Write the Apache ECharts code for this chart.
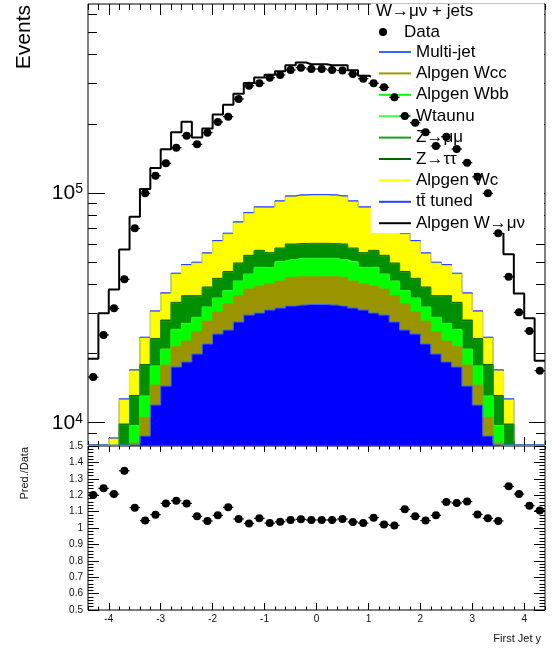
<!DOCTYPE html>
<html>
<head>
<meta charset="utf-8">
<script src="https://cdn.jsdelivr.net/npm/echarts@6/dist/echarts.min.js"></script>
<style>
  html, body { margin: 0; padding: 0; background: #fff; }
  #chart { width: 552px; height: 649px; }
</style>
</head>
<body>
<div id="chart"></div>
<script>
// Bin centres of the first-jet rapidity histogram (bin width 0.2)
const binCenters = [-4.3, -4.1, -3.9, -3.7, -3.5, -3.3, -3.1, -2.9, -2.7, -2.5, -2.3, -2.1, -1.9, -1.7, -1.5, -1.3, -1.1, -0.9, -0.7, -0.5, -0.3, -0.1,
                    0.1, 0.3, 0.5, 0.7, 0.9, 1.1, 1.3, 1.5, 1.7, 1.9, 2.1, 2.3, 2.5, 2.7, 2.9, 3.1, 3.3, 3.5, 3.7, 3.9, 4.1, 4.3];

// Observed events per bin
const dataEvents = [15810, 24100, 31480, 42110, 70200, 99700, 118950, 134700, 157500, 177700, 162900, 183000, 203800, 214900, 256600, 293200, 300300, 317700, 326400, 343200, 351200, 346600,
                    346600, 343200, 341500, 329700, 314500, 300300, 288600, 261000, 216400, 202300, 183800, 160200, 175900, 155400, 135500, 117700, 99700, 66770, 43210, 30240, 25070, 16840];

// Prediction / data ratio per bin
const ratioPredData = [1.201, 1.242, 1.207, 1.349, 1.124, 1.045, 1.081, 1.150, 1.166, 1.150, 1.071, 1.043, 1.077, 1.126, 1.055, 1.028, 1.059, 1.030, 1.038, 1.049, 1.053, 1.049,
                       1.049, 1.049, 1.055, 1.037, 1.030, 1.063, 1.022, 1.016, 1.114, 1.071, 1.045, 1.077, 1.159, 1.152, 1.161, 1.083, 1.059, 1.043, 1.254, 1.207, 1.136, 1.106];

// Stacked predictions, bottom of the stack first
const multiJet = [1500, 2800, 4500, 6200, 7200, 8750, 11940, 14440, 17480, 18380, 19910, 22010, 24330, 25320, 27440, 29430, 30030, 30940, 31570, 32210, 32540, 32710,
                  32710, 32540, 32210, 31570, 30940, 30030, 29430, 27440, 25320, 24330, 22010, 19910, 18380, 17480, 14440, 11940, 8750, 7200, 6200, 4500, 2800, 1500];
const alpgenWcc = [500, 700, 700, 800, 960, 1810, 2650, 3400, 3940, 4300, 4980, 5700, 6000, 7550, 8350, 8760, 9300, 9230, 9830, 10750, 10670, 10500,
                   10500, 10670, 10750, 9830, 9230, 9300, 8760, 8350, 7550, 6000, 5700, 4980, 4300, 3940, 3400, 2650, 1810, 960, 800, 700, 700, 500];
const alpgenWbb = [390, 480, 770, 770, 1500, 2410, 2950, 2970, 3920, 4220, 3720, 4010, 4400, 4570, 5390, 5950, 7820, 7000, 8480, 7950, 8410, 8410,
                   8410, 8410, 7950, 8480, 7000, 7820, 5950, 5390, 4570, 4400, 4010, 3720, 4220, 3920, 2970, 2950, 2410, 1500, 770, 770, 480, 390];
const wTauNu = [10, 20, 30, 30, 60, 100, 120, 120, 160, 180, 150, 170, 180, 190, 220, 250, 340, 260, 350, 330, 350, 350,
                350, 350, 330, 350, 260, 340, 250, 220, 190, 180, 170, 150, 180, 160, 120, 120, 100, 60, 30, 30, 20, 10];
const zMuMu = [570, 760, 950, 1970, 3250, 4610, 5310, 6720, 7530, 8210, 6610, 6740, 7240, 7500, 7770, 8700, 8370, 7130, 7010, 8290, 7880, 8010,
               8010, 7880, 8290, 7010, 7130, 8370, 8700, 7770, 7500, 7240, 6740, 6610, 8210, 7530, 6720, 5310, 4610, 3250, 1970, 950, 760, 570];
const zTauTau = [30, 40, 50, 100, 170, 240, 280, 350, 400, 430, 350, 350, 380, 390, 410, 460, 440, 410, 370, 440, 420, 420,
                 420, 420, 440, 370, 410, 440, 460, 410, 390, 380, 350, 350, 430, 400, 350, 280, 240, 170, 100, 50, 40, 30];
const alpgenWc = [1000, 1200, 1490, 2690, 3660, 5380, 7080, 8330, 10830, 12540, 13710, 15280, 18850, 20580, 24450, 27680, 29740, 31070, 33770, 36080, 36760, 36920,
                  36920, 36760, 36080, 33770, 31070, 29740, 27680, 24450, 20580, 18850, 15280, 13710, 12540, 10830, 8330, 7080, 5380, 3660, 2690, 800, 1200, 1000];
const ttbarTuned = [40, 70, 100, 150, 200, 280, 360, 440, 530, 580, 590, 650, 740, 790, 890, 970, 1030, 1030, 1100, 1150, 1160, 1170,
                    1170, 1160, 1150, 1100, 1030, 1030, 970, 890, 790, 740, 650, 590, 580, 530, 440, 360, 280, 200, 150, 100, 70, 40];
const alpgenWmunu = [14950, 23860, 29410, 44100, 61900, 80610, 97890, 118130, 138860, 155520, 124450, 135960, 157370, 175090, 195790, 219210, 230950, 240160, 246320, 262820, 271620, 265090,
                     265090, 261830, 263080, 249420, 236870, 232150, 212750, 190260, 174180, 154540, 137160, 122520, 155030, 134230, 120550, 96780, 82000, 52640, 41480, 28600, 22410, 14580];

// Axis ticks
const xMajorTicks = [-4, -3, -2, -1, 0, 1, 2, 3, 4];
const logMajorTicks = [1e4, 1e5];
const logMinorTicks = [9000, 20000, 30000, 40000, 50000, 60000, 70000, 80000, 90000, 200000, 300000, 400000, 500000, 600000];

const X_MIN = -4.4, X_MAX = 4.4, HALF_BIN = 0.1;
const Y_MIN = 8000, Y_MAX = 665000;
const FONT = 'Liberation Sans, Arial, Helvetica, sans-serif';

// Stack definition, drawn from the bottom up
const layers = [
  { name: 'Multi-jet',    values: multiJet,    fill: '#0000ff', line: '#3366ff', clampToFloor: true },
  { name: 'Alpgen Wcc',   values: alpgenWcc,   fill: '#999400', line: '#999900' },
  { name: 'Alpgen Wbb',   values: alpgenWbb,   fill: '#00ff00', line: '#00ff00' },
  { name: 'Wtaunu',       values: wTauNu,      fill: '#33ff33', line: '#44ff44' },
  { name: 'Z\u2192\u03bc\u03bc', values: zMuMu, fill: '#008f00', line: '#229922' },
  { name: 'Z\u2192\u03c4\u03c4', values: zTauTau, fill: '#006600', line: '#006600' },
  { name: 'Alpgen Wc',    values: alpgenWc,    fill: '#ffff00', line: '#ffff00' },
  { name: 't t\u0304 tuned'.replace(' t', 't'), values: ttbarTuned, fill: '#2233ee', line: '#2244ff' },
  { name: 'Alpgen W\u2192\u03bc\u03bd', values: alpgenWmunu, fill: null, line: '#000000', width: 2 }
];

// Cumulative sums for the stack
let running = binCenters.map(() => 0);
layers.forEach(l => {
  running = running.map((s, i) => s + l.values[i]);
  l.cumulative = running.slice();
});

// Histogram outline points: bin edges at both ends, centres in between
function stepPoints(vals) {
  const pts = [[binCenters[0] - HALF_BIN, vals[0]]];
  binCenters.forEach((c, i) => pts.push([c, vals[i]]));
  pts.push([binCenters[binCenters.length - 1] + HALF_BIN, vals[vals.length - 1]]);
  return pts;
}

// Top layers first so lower layers paint over their lower part
const stackSeries = layers.slice().reverse().map(l => {
  const vals = l.clampToFloor ? l.cumulative.map(v => Math.max(v, Y_MIN)) : l.cumulative;
  const s = {
    name: l.name,
    type: 'line',
    xAxisIndex: 0,
    yAxisIndex: 0,
    step: 'middle',
    showSymbol: false,
    symbol: 'none',
    clip: true,
    silent: true,
    z: 2,
    color: l.line,
    itemStyle: { color: l.line },
    lineStyle: { color: l.line, width: l.width || 1 },
    data: stepPoints(vals)
  };
  if (l.fill) s.areaStyle = { color: l.fill, opacity: 1, origin: 'start' };
  return s;
});

// Points with horizontal bin-width bars
function pointRenderer(params, api) {
  const x = api.value(0), y = api.value(1);
  const p = api.coord([x, y]);
  const l = api.coord([x - HALF_BIN, y]);
  const r = api.coord([x + HALF_BIN, y]);
  return {
    type: 'group',
    children: [
      { type: 'line', shape: { x1: l[0], y1: p[1], x2: r[0], y2: p[1] }, style: { stroke: '#000', lineWidth: 1.2 } },
      { type: 'circle', shape: { cx: p[0], cy: p[1], r: 4 }, style: { fill: '#000' } }
    ]
  };
}

const tickStyle = { color: '#000', width: 1 };
function xAxisDef(grid, pos, opts) {
  return Object.assign({
    type: 'value', gridIndex: grid, position: pos, min: X_MIN, max: X_MAX,
    axisLine: { show: false, onZero: false },
    splitLine: { show: false },
    axisLabel: { show: false }
  }, opts);
}
function logAxisDef(pos, ticks, len, withLabels) {
  return {
    type: 'log', gridIndex: 0, position: pos, min: Y_MIN, max: Y_MAX, logBase: 10,
    axisLine: { show: false, onZero: false },
    splitLine: { show: false },
    axisTick: { show: true, inside: true, length: len, customValues: ticks, lineStyle: tickStyle },
    axisLabel: withLabels ? {
      show: true, customValues: logMajorTicks, margin: 5, color: '#000',
      formatter: v => '{b|10}{s|' + Math.round(Math.log10(v)) + '}',
      rich: {
        b: { fontSize: 21, lineHeight: 22, fontFamily: FONT, color: '#000' },
        s: { fontSize: 14, lineHeight: 14, verticalAlign: 'top', fontFamily: FONT, color: '#000' }
      }
    } : { show: false }
  };
}
function ratioAxisDef(pos, withLabels) {
  return {
    type: 'value', gridIndex: 1, position: pos, min: 0.5, max: 1.5, interval: 0.1,
    axisLine: { show: false, onZero: false },
    splitLine: { show: false },
    axisTick: { show: true, inside: true, length: 11, lineStyle: tickStyle },
    minorTick: { show: true, splitNumber: 5, length: 5.5, lineStyle: tickStyle },
    axisLabel: withLabels ? { show: true, margin: 5, fontSize: 10, color: '#111', fontFamily: FONT } : { show: false }
  };
}

const chart = echarts.init(document.getElementById('chart'), null, { renderer: 'canvas' });

const option = {
  animation: false,
  backgroundColor: '#ffffff',
  textStyle: { fontFamily: FONT },
  title: {
    text: 'W\u2192\u03bc\u03bd + jets', left: 376, top: 3, padding: 0,
    textStyle: { fontSize: 17, fontWeight: 'normal', color: '#000', fontFamily: FONT, lineHeight: 17 }
  },
  legend: [
    {
      data: [{ name: 'Data', icon: 'circle' }],
      left: 379, top: 23.5, padding: 0, orient: 'vertical',
      itemWidth: 32, itemHeight: 8, selectedMode: false, z: 4,
      textStyle: { fontSize: 17, lineHeight: 17, color: '#000', fontFamily: FONT }
    },
    {
      data: layers.map(l => ({ name: l.name, icon: 'rect' })),
      left: 379, top: 43.5, padding: 0, orient: 'vertical',
      itemWidth: 32, itemHeight: 2, itemGap: 4.4, selectedMode: false, z: 4,
      textStyle: { fontSize: 17, lineHeight: 17, color: '#000', fontFamily: FONT }
    }
  ],
  graphic: [
    { type: 'rect', z: 3, silent: true, shape: { x: 371, y: 3.5, width: 173, height: 229.5 }, style: { fill: '#ffffff' } },
    { type: 'text', x: 24, y: 5, rotation: Math.PI / 2, silent: true,
      style: { text: 'Events', fontSize: 21, fontFamily: FONT, fill: '#000', align: 'right', verticalAlign: 'middle' } },
    { type: 'text', x: 24.5, y: 447, rotation: Math.PI / 2, silent: true,
      style: { text: 'Pred./Data', fontSize: 11, fontFamily: FONT, fill: '#111', align: 'right', verticalAlign: 'middle' } },
    { type: 'text', x: 541, y: 639, silent: true,
      style: { text: 'First Jet y', fontSize: 11, fontFamily: FONT, fill: '#111', align: 'right', verticalAlign: 'middle' } }
  ],
  grid: [
    { left: 88, right: 7, top: 4, height: 441, show: true, borderColor: '#000', borderWidth: 1, backgroundColor: 'transparent' },
    { left: 88, right: 7, top: 446, height: 164, show: true, borderColor: '#000', borderWidth: 1, backgroundColor: 'transparent' }
  ],
  xAxis: [
    xAxisDef(0, 'bottom', { axisTick: { show: true, inside: true, length: 8, customValues: xMajorTicks, lineStyle: tickStyle } }),
    xAxisDef(0, 'bottom', { interval: 0.2, axisTick: { show: true, inside: true, length: 4, lineStyle: tickStyle } }),
    xAxisDef(0, 'top', { axisTick: { show: true, inside: true, length: 11, customValues: xMajorTicks, lineStyle: tickStyle } }),
    xAxisDef(0, 'top', { interval: 0.2, axisTick: { show: true, inside: true, length: 6, lineStyle: tickStyle } }),
    xAxisDef(1, 'bottom', {
      axisTick: { show: true, inside: true, length: 7, customValues: xMajorTicks, lineStyle: tickStyle },
      axisLabel: { show: true, customValues: xMajorTicks, margin: 4, fontSize: 10, color: '#111', fontFamily: FONT }
    }),
    xAxisDef(1, 'bottom', { interval: 0.2, axisTick: { show: true, inside: true, length: 3.5, lineStyle: tickStyle } }),
    xAxisDef(1, 'top', { axisTick: { show: true, inside: true, length: 6, customValues: xMajorTicks, lineStyle: tickStyle } }),
    xAxisDef(1, 'top', { interval: 0.2, axisTick: { show: true, inside: true, length: 3.5, lineStyle: tickStyle } })
  ],
  yAxis: [
    logAxisDef('left', logMajorTicks, 17, true),
    logAxisDef('left', logMinorTicks, 9, false),
    logAxisDef('right', logMajorTicks, 16, false),
    logAxisDef('right', logMinorTicks, 9, false),
    ratioAxisDef('left', true),
    ratioAxisDef('right', false)
  ],
  series: stackSeries.concat([
    {
      name: 'Data', type: 'custom', xAxisIndex: 0, yAxisIndex: 0, z: 10, silent: true,
      itemStyle: { color: '#000' },
      renderItem: pointRenderer,
      data: binCenters.map((c, i) => [c, dataEvents[i]])
    },
    {
      name: 'Pred./Data', type: 'custom', xAxisIndex: 4, yAxisIndex: 4, z: 10, silent: true,
      itemStyle: { color: '#000' },
      renderItem: pointRenderer,
      data: binCenters.map((c, i) => [c, ratioPredData[i]])
    }
  ])
};

chart.setOption(option);
</script>
</body>
</html>
